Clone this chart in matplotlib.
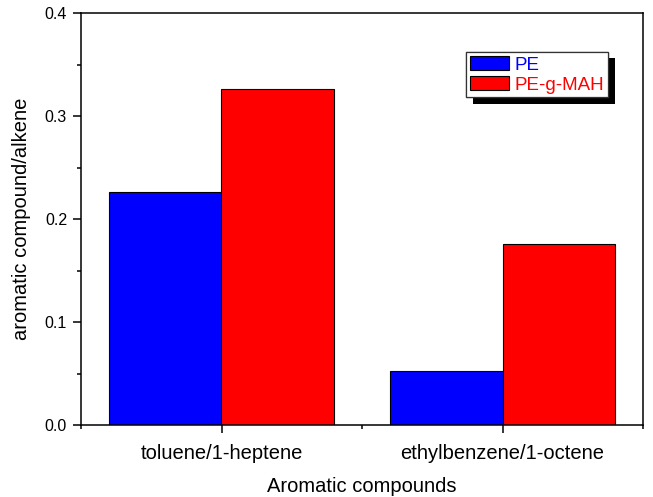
import numpy as np
import matplotlib
matplotlib.use('Agg')
import matplotlib.pyplot as plt
import matplotlib.patheffects as pe
from matplotlib.ticker import MultipleLocator, FixedLocator

plt.rcParams['font.family'] = ['Liberation Sans', 'DejaVu Sans']

# 数据
categories = ['toluene/1-heptene', 'ethylbenzene/1-octene']
series_names = ['PE', 'PE-g-MAH']
pe_vals = [0.226, 0.052]
pe_mah_vals = [0.326, 0.176]
colors = ['#0000FF', '#FF0000']

fig = plt.figure(figsize=(6.53, 4.97), dpi=100)
ax = fig.add_axes([81/653, 72/497, 562/653, 412/497])

x = np.arange(1, len(categories) + 1)
w = 0.4
ax.bar(x - w/2, pe_vals, w, color=colors[0], edgecolor='black', linewidth=0.8, label=series_names[0])
ax.bar(x + w/2, pe_mah_vals, w, color=colors[1], edgecolor='black', linewidth=0.8, label=series_names[1])

ax.set_xlim(0.5, 2.5)
ax.set_ylim(0, 0.4)
ax.set_xticks(x)
ax.set_xticklabels(categories, fontsize=14.5)
ax.xaxis.set_minor_locator(FixedLocator([0.5, 1.5, 2.5]))
ax.yaxis.set_major_locator(MultipleLocator(0.1))
ax.yaxis.set_minor_locator(MultipleLocator(0.05))
ax.yaxis.set_major_formatter(matplotlib.ticker.FormatStrFormatter('%.1f'))

ax.tick_params(which='both', direction='out', top=False, right=False, width=1.1, color='black')
ax.tick_params(which='major', length=6)
ax.tick_params(which='minor', length=3)
ax.tick_params(axis='y', which='major', labelsize=11.5, pad=4)
ax.tick_params(axis='x', which='major', pad=8)
for s in ax.spines.values():
    s.set_linewidth(1.1)

ax.set_xlabel('Aromatic compounds', fontsize=14.5, labelpad=10)
ax.set_ylabel('aromatic compound/alkene', fontsize=14.5, labelpad=10)

leg = ax.legend(loc='upper left', bbox_to_anchor=(0.685, 0.905), borderaxespad=0,
                fontsize=13.5, handlelength=2.1, handleheight=0.8, handletextpad=0.3,
                borderpad=0.2, labelspacing=0.12, fancybox=False, framealpha=1)
leg.get_frame().set_edgecolor('#333333')
leg.get_frame().set_linewidth(0.9)
leg.get_frame().set_path_effects([pe.withSimplePatchShadow(offset=(5, -4.5), shadow_rgbFace='black', alpha=1),
                                  pe.Normal()])
for t, c in zip(leg.get_texts(), colors):
    t.set_color(c)

fig.savefig('out.png', dpi=100)
